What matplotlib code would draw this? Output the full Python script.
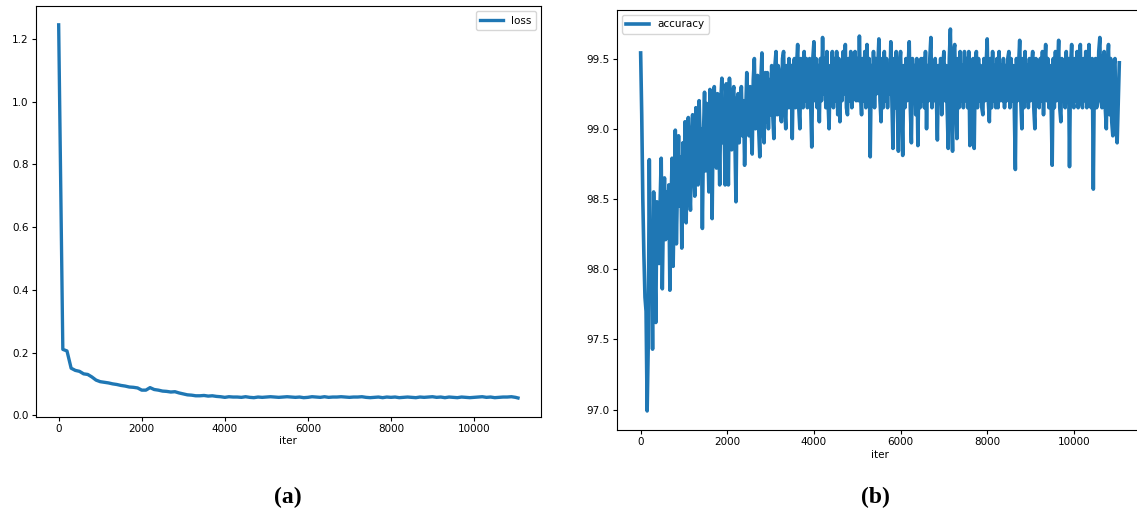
import numpy as np
import matplotlib
matplotlib.use("Agg")
import matplotlib.pyplot as plt

# loss, sampled every 100 iters (last point at 11060)
loss_iter = list(range(0, 11001, 100)) + [11060]
loss = [
    1.245, 0.210, 0.205, 0.150, 0.143, 0.140, 0.132, 0.130, 0.122, 0.112,
    0.107, 0.105, 0.103, 0.100, 0.098, 0.095, 0.093, 0.090, 0.089, 0.087,
    0.080, 0.080, 0.088, 0.082, 0.080, 0.077, 0.076, 0.074, 0.075, 0.071,
    0.068, 0.065, 0.064, 0.062, 0.062, 0.063, 0.061, 0.062, 0.060, 0.059,
    0.057, 0.059, 0.058, 0.058, 0.057, 0.059, 0.057, 0.056, 0.058, 0.057,
    0.058, 0.059, 0.058, 0.057, 0.058, 0.059, 0.058, 0.057, 0.058, 0.056,
    0.057, 0.059, 0.058, 0.057, 0.059, 0.057, 0.058, 0.058, 0.059, 0.058,
    0.057, 0.058, 0.058, 0.059, 0.057, 0.056, 0.057, 0.058, 0.056, 0.058,
    0.057, 0.058, 0.056, 0.057, 0.058, 0.057, 0.056, 0.058, 0.057, 0.058,
    0.059, 0.057, 0.058, 0.056, 0.058, 0.057, 0.056, 0.058, 0.057, 0.056,
    0.057, 0.058, 0.059, 0.057, 0.058, 0.056, 0.057, 0.058, 0.058, 0.059,
    0.057, 0.055,
]

# accuracy, sampled every 25 iters
acc_iter = list(range(0, 11051, 25))
accuracy = [
    99.54, 99.10, 98.50, 98.10, 97.80, 97.70, 96.99, 97.45, 98.78, 97.90, 98.20, 97.43, 98.55, 98.05, 97.62, 98.48, 98.30, 98.04, 98.48, 98.79,
    97.86, 98.40, 98.65, 98.21, 98.55, 98.30, 98.60, 97.85, 98.40, 98.79, 98.02, 98.50, 98.99, 98.18, 98.60, 98.95, 98.45, 98.80, 98.15, 98.90,
    98.50, 99.05, 98.33, 98.80, 99.08, 98.60, 98.42, 98.95, 99.10, 98.70, 98.52, 99.15, 98.80, 98.60, 99.20, 98.90, 99.00, 98.29, 98.95, 99.26,
    98.70, 99.18, 98.90, 98.55, 99.28, 99.00, 98.36, 99.10, 99.30, 98.90, 98.72, 99.25, 99.05, 98.60, 99.20, 99.36, 98.90, 99.10, 98.60, 99.32,
    99.00, 98.60, 99.36, 99.10, 98.85, 99.25, 99.30, 98.95, 98.48, 99.20, 99.25, 98.90, 99.15, 99.30, 98.95, 99.20, 98.74, 99.10, 99.40, 99.05,
    98.95, 99.30, 99.00, 98.82, 99.35, 99.50, 99.00, 99.35, 99.38, 99.00, 98.80, 99.35, 99.54, 99.00, 98.90, 99.40, 99.05, 99.40, 99.00, 99.35,
    99.10, 99.45, 99.10, 98.93, 99.45, 99.55, 99.10, 99.45, 99.40, 99.10, 99.05, 99.50, 99.55, 99.15, 99.00, 99.45, 99.15, 99.50, 99.15, 99.45,
    98.93, 99.45, 99.50, 99.15, 99.45, 99.60, 99.15, 99.00, 99.50, 99.20, 99.15, 99.55, 99.20, 99.50, 99.15, 99.45, 99.50, 99.20, 98.87, 99.50,
    99.62, 99.20, 99.50, 99.15, 99.45, 99.05, 99.50, 99.20, 99.65, 99.25, 99.50, 99.15, 99.55, 99.20, 99.00, 99.45, 99.25, 99.55, 99.15, 99.50,
    99.20, 99.55, 99.10, 99.50, 99.05, 99.45, 99.20, 99.55, 99.25, 99.60, 99.15, 99.10, 99.50, 99.20, 99.55, 99.15, 99.45, 99.25, 99.55, 99.20,
    99.50, 99.20, 99.66, 99.25, 99.10, 99.50, 99.20, 99.55, 99.15, 99.60, 99.25, 99.50, 98.80, 99.45, 99.20, 99.55, 99.15, 99.50, 99.25, 99.45,
    99.64, 99.20, 99.05, 99.50, 99.15, 99.55, 99.20, 99.50, 99.15, 99.45, 99.25, 99.62, 99.20, 98.86, 99.50, 99.15, 99.55, 99.20, 98.84, 99.45,
    99.55, 99.20, 98.81, 99.45, 99.15, 99.50, 99.20, 99.45, 99.62, 99.15, 98.90, 99.50, 99.20, 99.45, 99.10, 99.50, 98.88, 99.45, 99.15, 99.50,
    99.20, 99.50, 99.15, 99.55, 99.00, 99.45, 99.20, 99.50, 99.65, 99.15, 99.45, 99.20, 99.50, 99.25, 98.92, 99.45, 99.20, 99.50, 99.10, 99.45,
    99.55, 99.20, 99.45, 99.15, 98.86, 99.50, 99.71, 99.20, 98.84, 99.55, 99.60, 99.20, 98.93, 99.50, 99.15, 99.55, 99.20, 99.45, 99.15, 99.55,
    99.20, 99.50, 99.15, 99.55, 98.88, 99.45, 99.20, 99.50, 98.86, 99.45, 99.55, 99.15, 99.50, 99.20, 99.45, 99.15, 99.10, 99.50, 99.20, 99.45,
    99.64, 99.20, 99.05, 99.50, 99.15, 99.55, 99.20, 99.45, 99.15, 99.50, 99.15, 99.55, 99.20, 99.45, 99.20, 99.50, 99.15, 99.45, 99.20, 99.50,
    99.55, 99.15, 99.50, 99.20, 99.45, 99.15, 98.71, 99.50, 99.20, 99.45, 99.63, 99.20, 99.00, 99.50, 99.15, 99.55, 99.20, 99.45, 99.15, 99.50,
    99.20, 99.45, 99.55, 99.15, 99.00, 99.50, 99.20, 99.45, 99.15, 99.50, 99.20, 99.55, 99.10, 99.45, 99.60, 99.20, 99.50, 99.15, 99.45, 99.20,
    98.74, 99.50, 99.15, 99.55, 99.20, 99.45, 99.63, 99.15, 99.05, 99.50, 99.20, 99.45, 99.15, 99.55, 99.20, 99.50, 98.73, 99.45, 99.60, 99.20,
    99.15, 99.50, 99.20, 99.55, 99.15, 99.45, 99.60, 99.20, 99.15, 99.50, 99.20, 99.55, 99.15, 99.45, 99.60, 99.20, 99.15, 99.50, 98.57, 99.45,
    99.50, 99.15, 99.20, 99.55, 99.65, 99.20, 99.15, 99.50, 99.55, 99.15, 99.00, 99.45, 99.60, 99.10, 99.50, 99.05, 98.95, 99.45, 99.50, 99.00,
    98.90, 99.20, 99.47,
]

BLUE = "#1f77b4"
FS = 7.5

fig = plt.figure(figsize=(11.37, 5.15), dpi=100)

ax1 = fig.add_axes([0.0314, 0.191, 0.4444, 0.797])
ax1.plot(loss_iter, loss, color=BLUE, lw=2.4, label="loss")
ax1.set_xlabel("iter", fontsize=FS, labelpad=2)
ax1.tick_params(labelsize=FS, length=3, pad=2)
ax1.legend(loc="upper right", fontsize=FS, handlelength=2.2)

ax2 = fig.add_axes([0.5424, 0.165, 0.4631, 0.8156])
ax2.plot(acc_iter, accuracy, color=BLUE, lw=2.6, label="accuracy")
ax2.set_xlabel("iter", fontsize=FS, labelpad=2)
ax2.tick_params(labelsize=FS, length=3, pad=2)
ax2.legend(loc="upper left", fontsize=FS, handlelength=2.2)

fig.text(0.253, 0.035, "(a)", ha="center", va="center", fontsize=17,
         fontweight="bold", family="Liberation Serif")
fig.text(0.770, 0.035, "(b)", ha="center", va="center", fontsize=17,
         fontweight="bold", family="Liberation Serif")

fig.savefig("out.png", dpi=100)
